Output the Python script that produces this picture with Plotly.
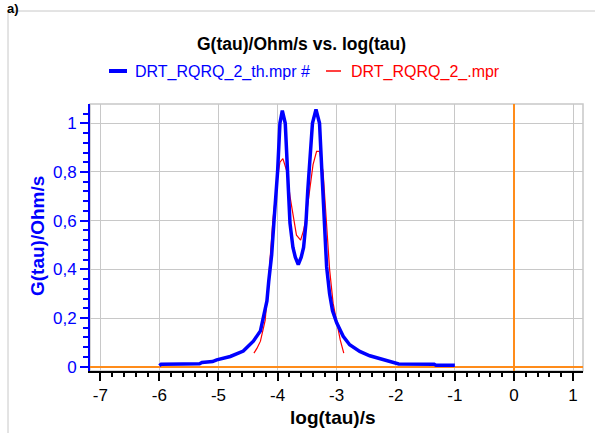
import plotly.graph_objects as go

# ---- data ----
blue_name = "DRT_RQRQ_2_th.mpr #"
blue_x = [-6.00, -5.97, -5.60, -5.32, -5.28, -5.10, -5.03, -4.80, -4.58, -4.41, -4.29, -4.24,
          -4.18, -4.15, -4.10, -4.06, -4.00, -3.96, -3.92, -3.87, -3.84, -3.81, -3.79, -3.74,
          -3.70, -3.65, -3.60, -3.56, -3.52, -3.49, -3.45, -3.41, -3.35, -3.29, -3.25, -3.21,
          -3.17, -3.12, -3.07, -3.00, -2.89, -2.78, -2.61, -2.44, -2.27, -2.15, -2.00, -1.95,
          -1.35, -1.32, -1.00]
blue_y = [0.004, 0.010, 0.011, 0.012, 0.017, 0.021, 0.028, 0.042, 0.064, 0.105, 0.147, 0.200,
          0.270, 0.350, 0.460, 0.600, 0.800, 1.000, 1.052, 1.000, 0.860, 0.720, 0.590, 0.490,
          0.450, 0.420, 0.450, 0.490, 0.590, 0.720, 0.860, 1.000, 1.057, 1.000, 0.800, 0.600,
          0.410, 0.300, 0.230, 0.180, 0.125, 0.090, 0.063, 0.045, 0.033, 0.024, 0.014, 0.011,
          0.010, 0.006, 0.006]

red_name = "DRT_RQRQ_2_.mpr"
red_x = [-4.40, -4.35, -4.29, -4.21, -4.16, -4.08, -4.00, -3.96, -3.91, -3.84, -3.79, -3.73,
         -3.68, -3.61, -3.56, -3.52, -3.46, -3.40, -3.34, -3.29, -3.23, -3.17, -3.12, -3.06,
         -3.00, -2.94, -2.88]
red_y = [0.056, 0.075, 0.105, 0.190, 0.330, 0.600, 0.780, 0.840, 0.855, 0.800, 0.700, 0.610,
         0.540, 0.520, 0.560, 0.610, 0.720, 0.830, 0.885, 0.885, 0.800, 0.600, 0.400, 0.260,
         0.180, 0.110, 0.056]

x_tick_vals = [-7, -6, -5, -4, -3, -2, -1, 0, 1]
x_tick_text = ["-7", "-6", "-5", "-4", "-3", "-2", "-1", "0", "1"]
y_tick_vals = [0, 0.2, 0.4, 0.6, 0.8, 1.0]
y_tick_text = ["0", "0,2", "0,4", "0,6", "0,8", "1"]

chart_title = "G(tau)/Ohm/s vs. log(tau)"
x_title = "log(tau)/s"
y_title = "G(tau)/Ohm/s"
panel_label = "a)"

# ---- layout geometry (pixels) ----
W, H = 595, 433
L, R, T, B = 90, 12, 104, 62
PW, PH = W - L - R, H - T - B


def px(xp):
    return (xp - L) / PW


def py(yp):
    return (H - B - yp) / PH


FONT = "Arial, Liberation Sans, sans-serif"
BLUE = "#0000ff"
RED = "#ff0000"
ORANGE = "#ff8c1a"
GRID = "#c8c8c8"

fig = go.Figure()
fig.add_trace(go.Scatter(x=red_x, y=red_y, mode="lines", name=red_name,
                         line=dict(color=RED, width=1.2)))
fig.add_trace(go.Scatter(x=blue_x, y=blue_y, mode="lines", name=blue_name,
                         line=dict(color=BLUE, width=3.5)))

shapes = [
    # outer frame
    dict(type="rect", xref="paper", yref="paper", x0=px(8), x1=1.2, y0=-0.6, y1=py(11),
         line=dict(color=GRID, width=1), layer="below"),
    # plot frame (top/right)
    dict(type="rect", xref="paper", yref="paper", x0=0, x1=1, y0=0, y1=1,
         line=dict(color=GRID, width=1.5), layer="below"),
    # legend samples
    dict(type="line", xref="paper", yref="paper", x0=px(109), x1=px(127), y0=py(71), y1=py(71),
         line=dict(color=BLUE, width=4)),
    dict(type="line", xref="paper", yref="paper", x0=px(326), x1=px(341), y0=py(71), y1=py(71),
         line=dict(color=RED, width=1.5)),
]

annotations = [
    dict(text="<b>%s</b>" % panel_label, xref="paper", yref="paper", x=px(5), y=py(-1),
         xanchor="left", yanchor="top", showarrow=False, font=dict(family=FONT, size=13, color="black")),
    dict(text="<b>%s</b>" % chart_title, xref="paper", yref="paper", x=px(301), y=py(44),
         xanchor="center", yanchor="middle", showarrow=False, font=dict(family=FONT, size=17.5, color="black")),
    dict(text=blue_name, xref="paper", yref="paper", x=px(133), y=py(72),
         xanchor="left", yanchor="middle", showarrow=False, font=dict(family=FONT, size=16, color=BLUE)),
    dict(text=red_name, xref="paper", yref="paper", x=px(349), y=py(72),
         xanchor="left", yanchor="middle", showarrow=False, font=dict(family=FONT, size=16, color=RED)),
    dict(text="<b>%s</b>" % x_title, xref="paper", yref="paper", x=px(333), y=py(417),
         xanchor="center", yanchor="middle", showarrow=False, font=dict(family=FONT, size=19, color="black")),
    dict(text="<b>%s</b>" % y_title, xref="paper", yref="paper", x=px(37), y=py(236),
         xanchor="center", yanchor="middle", textangle=-90, showarrow=False,
         font=dict(family=FONT, size=19, color=BLUE)),
]

fig.update_layout(
    width=W, height=H,
    margin=dict(l=L, r=R, t=T, b=B, pad=0),
    paper_bgcolor="white", plot_bgcolor="white",
    showlegend=False,
    font=dict(family=FONT, size=17, color="black"),
    shapes=shapes, annotations=annotations,
)

fig.update_xaxes(
    range=[-7.174, 1.168],
    tickmode="array", tickvals=x_tick_vals, ticktext=x_tick_text,
    ticks="outside", ticklen=8, tickwidth=1.5, tickcolor="black",
    tickfont=dict(family=FONT, size=17, color="black"),
    showline=True, linecolor="black", linewidth=2,
    showgrid=True, gridcolor=GRID, gridwidth=1.3,
    zeroline=True, zerolinecolor=ORANGE, zerolinewidth=1.7,
    minor=dict(ticks="outside", ticklen=4, tickwidth=1.5, tickcolor="black",
               tick0=0, dtick=0.2, showgrid=False),
    fixedrange=True,
)
fig.update_yaxes(
    range=[-0.0177, 1.0793],
    tickmode="array", tickvals=y_tick_vals, ticktext=y_tick_text,
    ticks="outside", ticklen=8, tickwidth=1.5, tickcolor=BLUE,
    tickfont=dict(family=FONT, size=17, color=BLUE),
    showline=True, linecolor=BLUE, linewidth=2,
    showgrid=True, gridcolor=GRID, gridwidth=1.3,
    zeroline=True, zerolinecolor=ORANGE, zerolinewidth=1.7,
    minor=dict(ticks="outside", ticklen=5, tickwidth=1.5, tickcolor=BLUE,
               tick0=0, dtick=0.04, showgrid=False),
    fixedrange=True,
)

fig.write_html("out.html", config={"displayModeBar": False},
               post_script="document.body.style.margin='0';document.body.style.overflow='hidden';")
